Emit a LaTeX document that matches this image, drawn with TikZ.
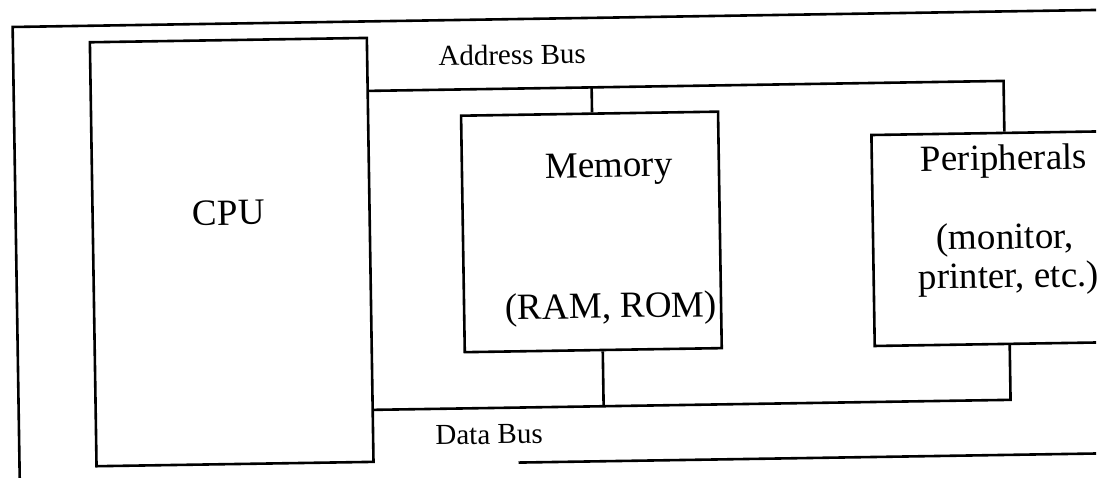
\documentclass[tikz,border=0pt]{standalone}
\usepackage{fontspec}
\setmainfont{Liberation Serif}
\tikzset{
  boxshape/.style={draw, line width=2.6pt, rectangle, inner sep=0pt, transform shape},
  bigtext/.style={font=\fontsize{37}{44}\selectfont, anchor=base, inner sep=0pt, transform shape},
  bustext/.style={font=\fontsize{29}{35}\selectfont, anchor=base, inner sep=0pt, transform shape},
  wire/.style={line width=2.6pt},
}
\begin{document}
\begin{tikzpicture}[x=1pt,y=-1pt]
\useasboundingbox (0,0) rectangle (1109,477);
\clip (0,0) rectangle (1096,477);
\begin{scope}[rotate around={0.9:(554,238)}]
  % outer frame
  \coordinate (fbl) at (16,500);
  \coordinate (ftl) at (16,18.5);
  \coordinate (ftr) at (1110,18.5);
  \coordinate (fbs) at (515,462);
  \coordinate (fbe) at (1110,462);
  \draw[wire] (fbl) -- (ftl) -- (ftr);
  \draw[wire] (fbs) -- (fbe);

  % boxes
  \node[boxshape, minimum width=277pt, minimum height=424pt] (cpu) at (231.5,247) {};
  \node[boxshape, minimum width=257pt, minimum height=236.5pt] (mem) at (591.5,232.5) {};
  \node[boxshape, minimum width=267pt, minimum height=211pt] (per) at (1006.5,245.5) {};

  % texts
  \node[bigtext] (cputxt) at (229,220) {CPU};
  \node[bigtext] (memtxt) at (610,178) {Memory};
  \node[bigtext] (ramtxt) at (610,319) {(RAM, ROM)};
  \node[bigtext] (pertxt) at (1005,177) {Peripherals};
  \node[bigtext] (montxt) at (1005,256) {(monitor,};
  \node[bigtext] (prntxt) at (1008,295) {printer, etc.)};
  \node[bustext] (abus) at (515,64) {Address Bus};
  \node[bustext] (dbus) at (486,443) {Data Bus};

  % address bus
  \coordinate (aend) at (1006,88);
  \coordinate (amem) at (594,88);
  \draw[wire] (cpu.east |- aend) -- (aend) -- (aend |- per.north);
  \draw[wire] (amem) -- (amem |- mem.north);

  % data bus
  \coordinate (dend) at (1008,407);
  \coordinate (dmem) at (601,407);
  \draw[wire] (cpu.east |- dend) -- (dend) -- (dend |- per.south);
  \draw[wire] (dmem) -- (dmem |- mem.south);
\end{scope}
\end{tikzpicture}
\end{document}
